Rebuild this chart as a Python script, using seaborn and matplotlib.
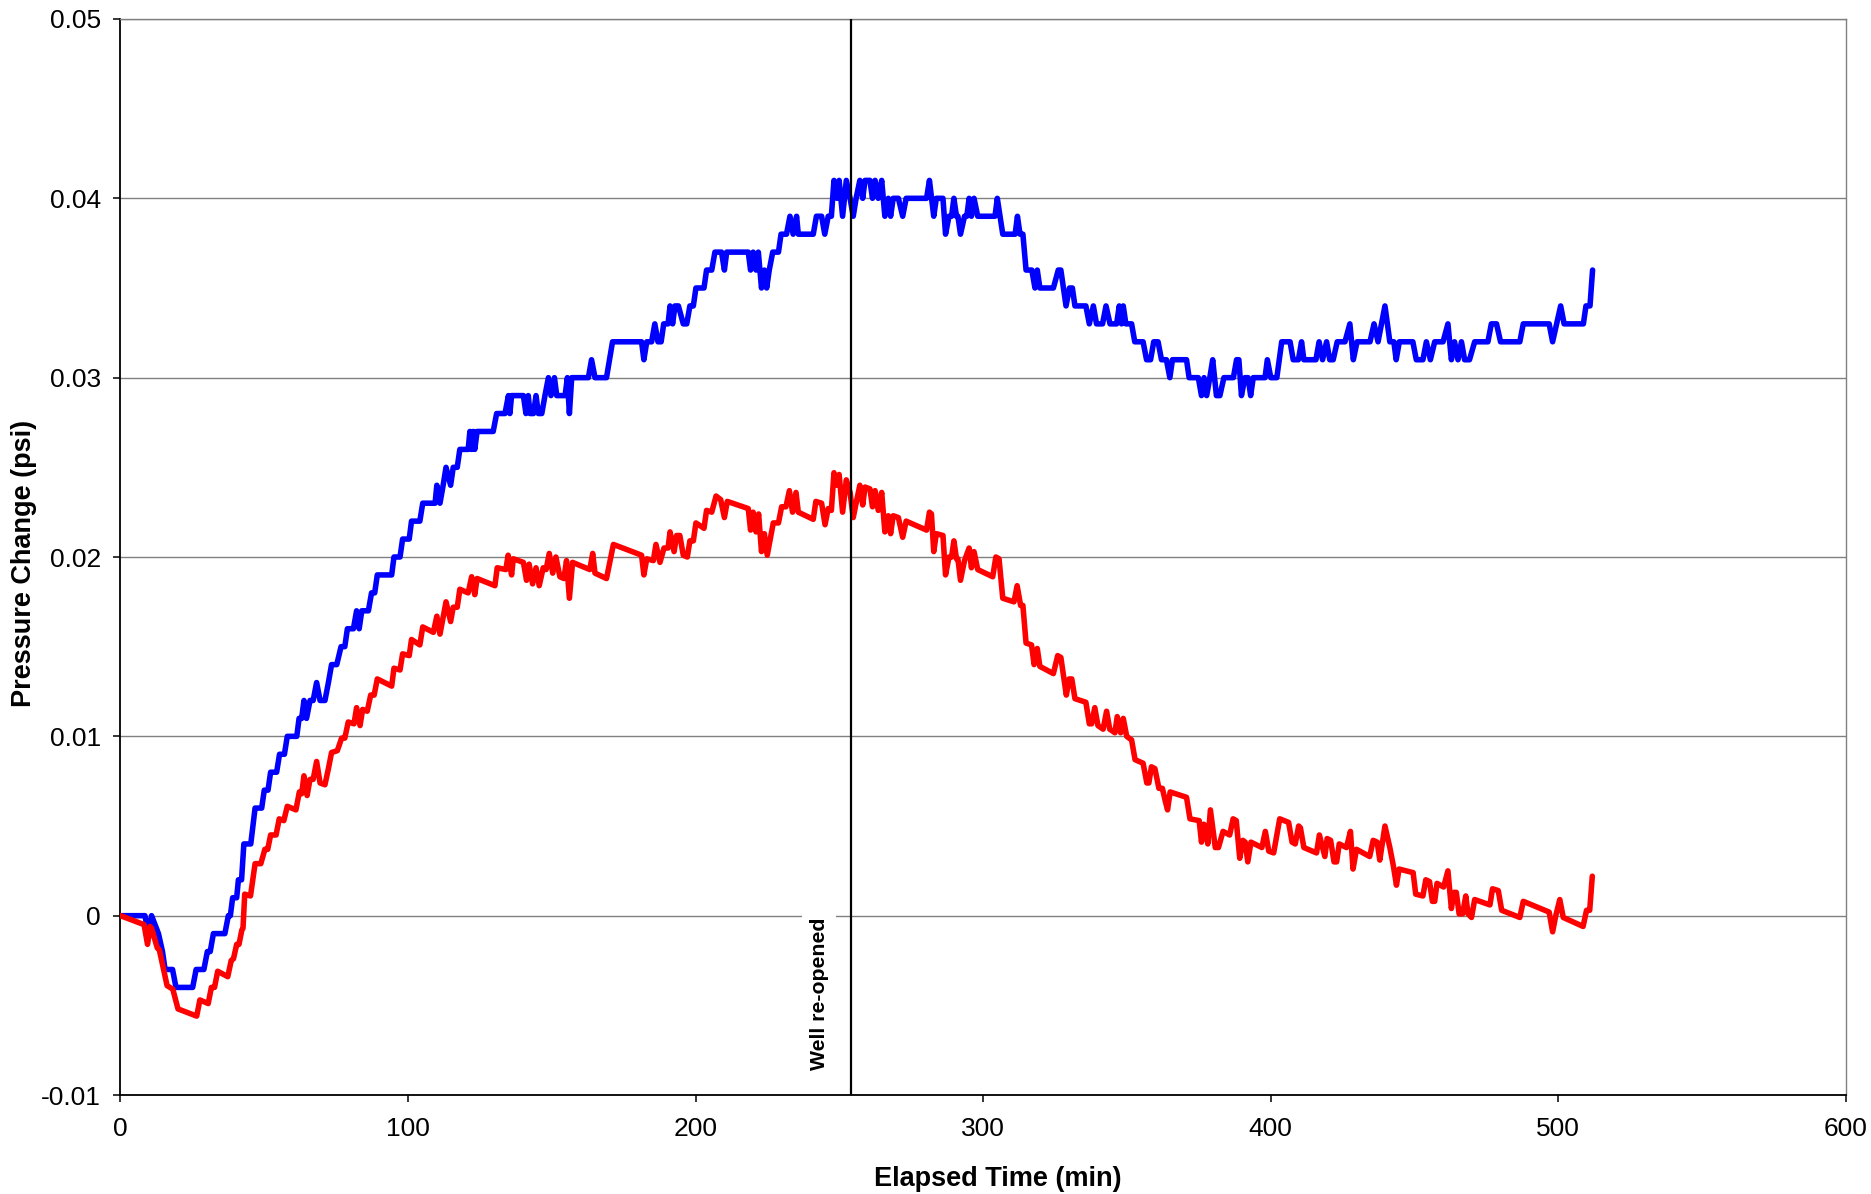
import matplotlib
matplotlib.use("Agg")
import matplotlib.pyplot as plt
import seaborn as sns
import pandas as pd

# ---------------- data ----------------
blue_t = [0, 8.5, 9.7, 10.8, 13.2, 14.6, 15.5, 18.1, 19.3, 25.1, 26.3, 29.0, 30.2, 31.2, 32.3, 36.3, 37.5, 38.2,
          39.0, 40.4, 41.0, 42.1, 42.9, 45.3, 46.8, 49.1, 50.0, 51.3, 52.2, 54.3, 55.3, 57.0, 58.0, 61.3, 62.1,
          63.0, 63.8, 64.7, 65.9, 67.0, 68.2, 69.4, 71.1, 72.3, 73.4, 75.2, 76.7, 78.0, 78.9, 81.0, 82.1, 83.0,
          83.9, 86.2, 87.3, 88.4, 89.3, 94.3, 95.1, 97.2, 98.1, 100.4, 101.2, 104.1, 105.1, 109.4, 110.0, 111.1,
          112.2, 113.2, 114.8, 115.7, 117.1, 118.0, 120.9, 121.5, 122.1, 122.7, 123.2, 124.0, 129.6, 130.8,
          133.7, 134.9, 135.4, 136.0, 140.1, 141.0, 141.8, 142.4, 143.6, 144.5, 145.3, 146.5, 147.6, 148.8,
          149.7, 150.9, 151.7, 154.6, 155.4, 156.1, 156.9, 162.7, 163.8, 165.0, 169.0, 171.1, 181.2, 182.0,
          183.0, 184.7, 185.8, 186.9, 188.0, 188.9, 190.4, 191.1, 192.0, 192.8, 194.0, 195.7, 196.9, 198.0,
          199.2, 200.1, 202.9, 203.8, 205.6, 206.7, 209.0, 210.0, 210.8, 218.3, 219.1, 220.0, 221.0, 221.8,
          222.9, 223.9, 224.7, 225.6, 226.8, 228.8, 229.7, 231.6, 232.8, 233.9, 235.1, 235.7, 240.9, 242.0,
          243.8, 244.9, 246.1, 247.2, 248.1, 249.2, 249.9, 251.1, 252.4, 253.7, 254.8, 255.8, 257.1, 258.1,
          258.9, 260.6, 261.5, 262.4, 263.5, 264.7, 265.8, 267.0, 267.8, 268.7, 270.5, 272.0, 273.2, 280.3,
          281.3, 282.8, 283.7, 286.0, 286.9, 288.1, 289.0, 289.8, 290.7, 291.2, 292.1, 293.5, 294.3, 295.1,
          295.9, 296.8, 298.1, 304.1, 304.9, 306.8, 311.1, 311.9, 312.8, 313.8, 314.9, 316.9, 318.0, 318.8,
          319.7, 324.4, 326.1, 327.0, 328.8, 330.0, 331.0, 331.9, 335.7, 336.9, 338.3, 339.4, 341.5, 342.7,
          344.1, 346.4, 347.3, 348.1, 348.7, 349.6, 351.6, 352.7, 355.6, 356.8, 358.2, 359.3, 360.8, 362.0,
          363.7, 364.9, 365.8, 370.7, 371.6, 374.8, 375.9, 376.8, 377.7, 378.8, 379.8, 381.1, 382.3, 383.7,
          387.0, 388.1, 388.9, 389.8, 391.0, 392.1, 393.0, 393.9, 398.0, 398.8, 400.0, 402.1, 403.8, 406.7,
          407.8, 409.6, 410.7, 411.5, 415.7, 416.8, 418.0, 419.4, 420.5, 421.7, 423.1, 425.8, 427.5, 428.7,
          430.0, 434.5, 435.9, 437.3, 439.7, 441.4, 442.8, 443.6, 444.7, 449.4, 450.6, 452.9, 454.1, 455.5,
          457.0, 459.9, 461.6, 462.8, 463.9, 465.1, 466.3, 467.4, 469.1, 470.9, 475.5, 476.7, 478.5, 479.9,
          486.6, 487.8, 496.8, 498.0, 499.4, 500.8, 502.0, 508.7, 509.6, 511.0, 511.9]
blue_v = [0.000, 0.000, -0.001, 0.000, -0.001, -0.002, -0.003, -0.003, -0.004, -0.004, -0.003, -0.003, -0.002,
          -0.002, -0.001, -0.001, 0.000, 0.000, 0.001, 0.001, 0.002, 0.002, 0.004, 0.004, 0.006, 0.006, 0.007,
          0.007, 0.008, 0.008, 0.009, 0.009, 0.010, 0.010, 0.011, 0.011, 0.012, 0.011, 0.012, 0.012, 0.013,
          0.012, 0.012, 0.013, 0.014, 0.014, 0.015, 0.015, 0.016, 0.016, 0.017, 0.016, 0.017, 0.017, 0.018,
          0.018, 0.019, 0.019, 0.020, 0.020, 0.021, 0.021, 0.022, 0.022, 0.023, 0.023, 0.024, 0.023, 0.024,
          0.025, 0.024, 0.025, 0.025, 0.026, 0.026, 0.027, 0.026, 0.027, 0.026, 0.027, 0.027, 0.028, 0.028,
          0.029, 0.028, 0.029, 0.029, 0.028, 0.029, 0.028, 0.028, 0.029, 0.028, 0.028, 0.029, 0.030, 0.029,
          0.030, 0.029, 0.029, 0.030, 0.028, 0.030, 0.030, 0.031, 0.030, 0.030, 0.032, 0.032, 0.031, 0.032,
          0.032, 0.033, 0.032, 0.032, 0.033, 0.033, 0.034, 0.033, 0.034, 0.034, 0.033, 0.033, 0.034, 0.034,
          0.035, 0.035, 0.036, 0.036, 0.037, 0.037, 0.036, 0.037, 0.037, 0.036, 0.037, 0.036, 0.037, 0.035,
          0.036, 0.035, 0.036, 0.037, 0.037, 0.038, 0.038, 0.039, 0.038, 0.039, 0.038, 0.038, 0.039, 0.039,
          0.038, 0.039, 0.039, 0.041, 0.040, 0.041, 0.039, 0.041, 0.040, 0.039, 0.040, 0.041, 0.040, 0.041,
          0.041, 0.040, 0.041, 0.040, 0.041, 0.039, 0.040, 0.039, 0.040, 0.040, 0.039, 0.040, 0.040, 0.041,
          0.039, 0.040, 0.040, 0.038, 0.039, 0.039, 0.040, 0.039, 0.039, 0.038, 0.039, 0.039, 0.040, 0.039,
          0.040, 0.039, 0.039, 0.040, 0.038, 0.038, 0.039, 0.038, 0.038, 0.036, 0.036, 0.035, 0.036, 0.035,
          0.035, 0.036, 0.036, 0.034, 0.035, 0.035, 0.034, 0.034, 0.033, 0.034, 0.033, 0.033, 0.034, 0.033,
          0.033, 0.034, 0.033, 0.034, 0.033, 0.033, 0.032, 0.032, 0.031, 0.031, 0.032, 0.032, 0.031, 0.031,
          0.030, 0.031, 0.031, 0.030, 0.030, 0.029, 0.030, 0.029, 0.030, 0.031, 0.029, 0.029, 0.030, 0.030,
          0.031, 0.031, 0.029, 0.030, 0.030, 0.029, 0.030, 0.030, 0.031, 0.030, 0.030, 0.032, 0.032, 0.031,
          0.031, 0.032, 0.031, 0.031, 0.032, 0.031, 0.032, 0.031, 0.031, 0.032, 0.032, 0.033, 0.031, 0.032,
          0.032, 0.033, 0.032, 0.034, 0.032, 0.032, 0.031, 0.032, 0.032, 0.031, 0.031, 0.032, 0.031, 0.032,
          0.032, 0.033, 0.031, 0.032, 0.031, 0.032, 0.031, 0.031, 0.032, 0.032, 0.033, 0.033, 0.032, 0.032,
          0.033, 0.033, 0.032, 0.033, 0.034, 0.033, 0.033, 0.034, 0.034, 0.036]

red_t = [0, 8.2, 9.4, 10.3, 10.8, 12.8, 13.5, 16.2, 18.2, 20.0, 26.5, 27.6, 30.5, 31.6, 32.7, 33.8, 37.3, 38.5,
         39.3, 40.4, 41.2, 42.2, 42.6, 43.2, 45.2, 46.8, 48.8, 50.2, 51.2, 52.2, 54.1, 55.2, 56.8, 58.0, 61.0,
         62.2, 63.0, 63.8, 64.9, 65.9, 67.0, 68.2, 69.4, 71.1, 72.3, 73.4, 75.4, 76.9, 78.0, 79.2, 81.2, 82.1,
         83.3, 84.2, 85.8, 87.0, 88.2, 89.3, 94.3, 95.1, 97.2, 98.1, 100.4, 101.2, 104.1, 105.1, 108.8, 110.0,
         111.1, 113.2, 114.8, 115.7, 117.1, 118.0, 120.9, 122.1, 123.2, 124.0, 130.2, 131.0, 134.0, 134.8,
         136.0, 136.6, 140.1, 141.2, 142.1, 143.3, 144.5, 145.6, 147.0, 148.0, 149.1, 150.3, 151.4, 152.8,
         154.2, 155.1, 156.1, 157.2, 163.2, 164.2, 165.0, 169.0, 171.4, 181.2, 182.0, 183.0, 185.3, 186.2,
         187.6, 189.0, 190.4, 191.1, 192.5, 193.4, 194.5, 195.7, 197.1, 198.0, 199.2, 200.1, 202.9, 203.8,
         205.6, 207.1, 208.7, 210.0, 211.0, 218.3, 219.1, 220.0, 221.0, 221.9, 222.9, 223.9, 224.9, 227.0,
         228.8, 229.9, 231.4, 232.6, 233.7, 234.9, 235.7, 240.9, 241.8, 243.8, 245.0, 246.1, 247.2, 248.1,
         249.2, 249.9, 251.1, 252.4, 253.7, 254.8, 255.8, 257.1, 258.1, 258.9, 260.6, 261.5, 262.4, 263.5,
         264.7, 265.8, 267.0, 267.8, 268.7, 270.5, 272.0, 273.2, 280.3, 281.3, 282.0, 282.8, 283.7, 286.0,
         286.9, 288.1, 289.0, 289.8, 290.7, 291.2, 292.1, 293.5, 295.1, 295.9, 296.8, 298.1, 303.3, 304.4,
         305.5, 306.8, 310.7, 311.8, 313.0, 313.8, 314.9, 316.8, 317.7, 318.8, 319.7, 324.4, 325.9, 327.0,
         328.9, 329.9, 330.8, 331.9, 335.7, 336.9, 337.7, 338.8, 339.9, 341.7, 342.9, 344.0, 345.8, 346.6,
         347.8, 348.7, 349.9, 351.6, 352.8, 355.6, 356.9, 357.6, 358.5, 359.7, 361.1, 362.3, 363.3, 364.1,
         365.0, 370.7, 371.9, 375.1, 375.9, 376.7, 377.3, 378.1, 379.0, 380.7, 381.8, 383.4, 385.7, 386.9,
         388.0, 389.2, 390.3, 391.1, 392.0, 393.1, 396.9, 398.1, 399.3, 401.0, 403.1, 406.2, 407.4, 408.5,
         409.7, 410.3, 411.5, 415.9, 416.9, 418.8, 419.6, 420.8, 422.0, 422.9, 423.8, 426.3, 427.7, 428.6,
         429.8, 434.4, 435.6, 437.0, 437.9, 439.7, 441.4, 442.6, 443.7, 444.6, 449.5, 450.4, 452.9, 453.9,
         455.2, 456.2, 457.0, 457.8, 460.1, 461.6, 462.8, 463.7, 464.5, 465.5, 466.7, 467.8, 468.6, 469.8,
         470.9, 476.2, 477.1, 479.1, 480.3, 486.6, 487.8, 496.8, 498.0, 499.1, 500.5, 501.7, 508.6, 509.8,
         510.9, 511.8]
red_v = [0.0000, -0.0005, -0.0016, -0.0006, -0.0007, -0.0018, -0.0019, -0.0039, -0.0041, -0.0052, -0.0056,
         -0.0047, -0.0049, -0.0040, -0.0040, -0.0031, -0.0034, -0.0025, -0.0024, -0.0016, -0.0016, -0.0008,
         -0.0007, 0.0012, 0.0011, 0.0029, 0.0029, 0.0037, 0.0037, 0.0045, 0.0045, 0.0054, 0.0053, 0.0061,
         0.0059, 0.0069, 0.0068, 0.0078, 0.0067, 0.0076, 0.0076, 0.0086, 0.0074, 0.0073, 0.0082, 0.0091,
         0.0092, 0.0099, 0.0099, 0.0108, 0.0107, 0.0116, 0.0106, 0.0115, 0.0114, 0.0123, 0.0123, 0.0132,
         0.0128, 0.0138, 0.0137, 0.0146, 0.0145, 0.0154, 0.0151, 0.0161, 0.0158, 0.0167, 0.0157, 0.0175,
         0.0164, 0.0172, 0.0172, 0.0182, 0.0180, 0.0189, 0.0179, 0.0188, 0.0184, 0.0194, 0.0193, 0.0201,
         0.0190, 0.0199, 0.0197, 0.0187, 0.0196, 0.0185, 0.0194, 0.0184, 0.0194, 0.0193, 0.0202, 0.0191,
         0.0200, 0.0189, 0.0188, 0.0198, 0.0177, 0.0197, 0.0193, 0.0202, 0.0191, 0.0188, 0.0207, 0.0201,
         0.0190, 0.0199, 0.0198, 0.0207, 0.0197, 0.0205, 0.0205, 0.0214, 0.0203, 0.0212, 0.0212, 0.0201,
         0.0200, 0.0209, 0.0209, 0.0219, 0.0216, 0.0226, 0.0225, 0.0234, 0.0232, 0.0222, 0.0231, 0.0227,
         0.0215, 0.0225, 0.0214, 0.0224, 0.0203, 0.0213, 0.0201, 0.0219, 0.0219, 0.0228, 0.0228, 0.0237,
         0.0225, 0.0236, 0.0225, 0.0221, 0.0231, 0.0230, 0.0218, 0.0227, 0.0226, 0.0247, 0.0240, 0.0246,
         0.0225, 0.0243, 0.0236, 0.0222, 0.0230, 0.0240, 0.0229, 0.0239, 0.0238, 0.0228, 0.0237, 0.0226,
         0.0236, 0.0214, 0.0223, 0.0213, 0.0223, 0.0222, 0.0211, 0.0220, 0.0215, 0.0225, 0.0224, 0.0203,
         0.0213, 0.0212, 0.0190, 0.0200, 0.0200, 0.0209, 0.0199, 0.0199, 0.0187, 0.0198, 0.0205, 0.0194,
         0.0203, 0.0193, 0.0189, 0.0200, 0.0199, 0.0177, 0.0175, 0.0184, 0.0173, 0.0173, 0.0152, 0.0151,
         0.0140, 0.0149, 0.0139, 0.0135, 0.0145, 0.0144, 0.0123, 0.0132, 0.0132, 0.0121, 0.0119, 0.0107,
         0.0107, 0.0116, 0.0106, 0.0104, 0.0114, 0.0104, 0.0102, 0.0111, 0.0102, 0.0110, 0.0100, 0.0098,
         0.0087, 0.0085, 0.0074, 0.0074, 0.0083, 0.0082, 0.0071, 0.0071, 0.0064, 0.0059, 0.0069, 0.0066,
         0.0054, 0.0053, 0.0041, 0.0051, 0.0050, 0.0040, 0.0059, 0.0038, 0.0038, 0.0047, 0.0045, 0.0054,
         0.0053, 0.0032, 0.0042, 0.0041, 0.0030, 0.0041, 0.0038, 0.0047, 0.0036, 0.0035, 0.0054, 0.0052,
         0.0041, 0.0040, 0.0050, 0.0049, 0.0038, 0.0035, 0.0045, 0.0033, 0.0043, 0.0042, 0.0030, 0.0030,
         0.0040, 0.0038, 0.0047, 0.0026, 0.0037, 0.0033, 0.0042, 0.0041, 0.0031, 0.0050, 0.0038, 0.0028,
         0.0017, 0.0026, 0.0024, 0.0012, 0.0011, 0.0020, 0.0019, 0.0008, 0.0008, 0.0018, 0.0016, 0.0025,
         0.0004, 0.0013, 0.0013, 0.0001, 0.0001, 0.0011, 0.0001, -0.0001, 0.0009, 0.0006, 0.0015, 0.0014,
         0.0003, -0.0001, 0.0008, 0.0002, -0.0009, 0.0000, 0.0009, -0.0001, -0.0006, 0.0003, 0.0003, 0.0022]

x_ticks = [0, 100, 200, 300, 400, 500, 600]
x_tick_labels = ["0", "100", "200", "300", "400", "500", "600"]
y_ticks = [-0.01, 0.0, 0.01, 0.02, 0.03, 0.04, 0.05]
y_tick_labels = ["-0.01", "0", "0.01", "0.02", "0.03", "0.04", "0.05"]
event_time = 254
event_label = "Well re-opened"
x_label = "Elapsed Time (min)"
y_label = "Pressure Change (psi)"

# ---------------- figure ----------------
sns.set_theme(style="white")
plt.rcParams["font.family"] = ["Liberation Sans", "DejaVu Sans"]

fig = plt.figure(figsize=(18.71, 11.94), dpi=100)
ax = fig.add_axes([0.0644, 0.0829, 0.9222, 0.9012])

blue_df = pd.DataFrame({"t": blue_t, "v": blue_v})
red_df = pd.DataFrame({"t": red_t, "v": red_v})

sns.lineplot(data=blue_df, x="t", y="v", ax=ax, color="#0000FF", lw=4.0,
             estimator=None, sort=False, solid_joinstyle="round", zorder=3)
sns.lineplot(data=red_df, x="t", y="v", ax=ax, color="#FF0000", lw=4.0,
             estimator=None, sort=False, solid_joinstyle="round", zorder=4)

ax.axvline(event_time, color="black", lw=1.6, zorder=5)
ax.text(242.9, -0.00437, event_label, rotation=90, ha="center", va="center",
        fontsize=15.3, fontweight="bold", color="black", zorder=6,
        bbox=dict(facecolor="white", edgecolor="none", pad=5))

ax.set_xlim(0, 600)
ax.set_ylim(-0.01, 0.05)
ax.set_xticks(x_ticks)
ax.set_xticklabels(x_tick_labels)
ax.set_yticks(y_ticks)
ax.set_yticklabels(y_tick_labels)

ax.yaxis.grid(True, color="#808080", lw=1.0)
ax.xaxis.grid(False)
ax.set_axisbelow(True)

for side in ["left", "bottom"]:
    ax.spines[side].set_color("black")
    ax.spines[side].set_linewidth(1.3)
for side in ["top", "right"]:
    ax.spines[side].set_color("#808080")
    ax.spines[side].set_linewidth(1.0)

ax.tick_params(axis="both", which="major", direction="out", length=5, width=1.1,
               color="black", labelsize=19, labelcolor="black", bottom=True, left=True)
ax.tick_params(axis="y", pad=9)
ax.tick_params(axis="x", pad=11)

ax.set_xlabel(x_label, fontsize=19.5, fontweight="bold", color="black")
ax.set_ylabel(y_label, fontsize=19.5, fontweight="bold", color="black")
ax.xaxis.set_label_coords(0.5086, -0.078)
ax.xaxis.label.set_va("center")
ax.yaxis.set_label_coords(-0.0559, 0.494)
ax.yaxis.label.set_va("center")

fig.savefig("out.png", dpi=100)
